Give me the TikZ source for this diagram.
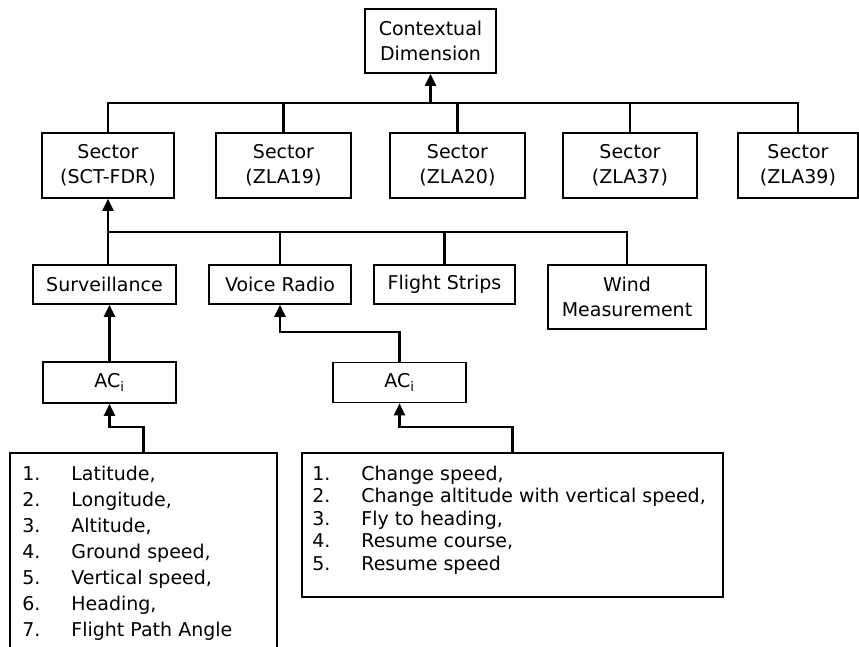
\documentclass[tikz,border=0pt]{standalone}
\usepackage{fontspec}
\setmainfont{DejaVu Sans}
\usetikzlibrary{arrows.meta}
\begin{document}
\begin{tikzpicture}[x=1pt,y=-1pt,
  box/.style={draw, line width=1.6pt, inner sep=0pt, align=center,
    font=\fontsize{19}{25}\selectfont},
  sector/.style={box, minimum width=135pt, minimum height=65pt},
  source/.style={box, minimum height=39pt},
  listtext/.style={anchor=base west, inner sep=0pt},
  link/.style={line width=2.3pt},
  up/.style={link, -{Triangle[width=11pt,length=12pt]}},
]
\useasboundingbox (0,0) rectangle (859,647);
\clip (0,0) rectangle (859,647);

% top of the hierarchy
\node[box, minimum width=131pt, minimum height=64pt] (ctx) at (430.5,41) {Contextual\\Dimension};

% sectors
\node[sector, minimum width=132pt] (sct) at (108,165.5) {Sector\\(SCT-FDR)};
\node[sector] (zla19) at (283.5,165.5) {Sector\\(ZLA19)};
\node[sector] (zla20) at (457.5,165.5) {Sector\\(ZLA20)};
\node[sector, minimum width=134pt] (zla37) at (630,165.5) {Sector\\(ZLA37)};
\node[sector, minimum width=120pt] (zla39) at (798,165.5) {Sector\\(ZLA39)};

% information sources
\node[source, minimum width=143pt] (surv) at (104.5,284.5) {Surveillance};
\node[source, minimum width=142pt] (voice) at (280,284.5) {Voice Radio};
\node[source, minimum width=141pt] (strips) at (444.5,284.5) {Flight Strips};
\node[box, minimum width=158pt, minimum height=64pt] (wind) at (627,297) {Wind\\Measurement};

% aircraft
\node[box, minimum width=133pt, minimum height=41pt] (ac1) at (109.5,382.5) {AC\textsubscript{i}};
\node[box, minimum width=133pt, minimum height=40pt] (ac2) at (399.5,382.5) {AC\textsubscript{i}};

% attribute lists
\node[box, minimum width=267pt, minimum height=240pt] (list1) at (143.5,573) {};
\node[box, minimum width=421pt, minimum height=144pt] (list2) at (512.5,525) {};

\node[listtext, font=\fontsize{19}{26}\selectfont] (items1) at ([shift={(13,28)}]list1.north west)
  {\begin{tabular}[t]{@{}p{49pt}@{}l@{}}
    1. & Latitude,\\
    2. & Longitude,\\
    3. & Altitude,\\
    4. & Ground speed,\\
    5. & Vertical speed,\\
    6. & Heading,\\
    7. & Flight Path Angle
  \end{tabular}};
\node[listtext, font=\fontsize{19}{22.5}\selectfont] (items2) at ([shift={(11,28)}]list2.north west)
  {\begin{tabular}[t]{@{}p{49pt}@{}l@{}}
    1. & Change speed,\\
    2. & Change altitude with vertical speed,\\
    3. & Fly to heading,\\
    4. & Resume course,\\
    5. & Resume speed
  \end{tabular}};

% bus joining the sectors
\path (ctx.south) ++(0,29) coordinate (bus1);
\draw[link] (sct.north) |- (bus1) -| (zla39.north);
\foreach \n in {zla19,zla20,zla37}
  \draw[link] (\n.north) -- (\n.north |- bus1);
\draw[up] (bus1) -- (ctx.south);

% bus joining the sources
\path (sct.south) ++(0,33) coordinate (bus2);
\draw[link] (surv.north -| bus2) -- (bus2) -| (wind.north);
\foreach \n in {voice,strips}
  \draw[link] (\n.north) -- (\n.north |- bus2);
\draw[up] (bus2) -- (sct.south);

% aircraft to sources
\draw[up] (ac1.north) -- (ac1.north |- surv.south);
\draw[up] (ac2.north) -- ++(0,-30) -| (voice.south);

% lists to aircraft
\draw[up] (list1.north) -- ++(0,-25) -| (ac1.south);
\draw[up] (list2.north) -- ++(0,-25) -| (ac2.south);
\end{tikzpicture}
\end{document}
